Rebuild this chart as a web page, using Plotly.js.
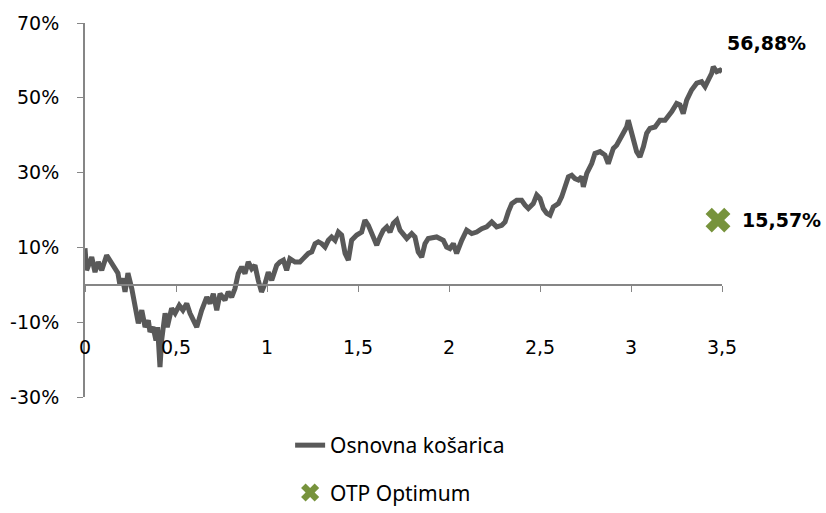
<!DOCTYPE html>
<html>
<head>
<meta charset="utf-8">
<script src="https://cdn.plot.ly/plotly-3.0.1.min.js"></script>
<style>
    html, body { margin: 0; padding: 0; background: #fff; }
    #chart { width: 826px; height: 513px; }
</style>
</head>
<body>
<div id="chart"></div>
<script>
// Osnovna košarica (x in years, y in %)
var basketX = [
    0, 0.009, 0.037, 0.055, 0.073, 0.092, 0.119, 0.137, 0.154, 0.181,
    0.192, 0.207, 0.220, 0.236, 0.257, 0.275, 0.293, 0.312, 0.330, 0.348,
    0.357, 0.374, 0.390, 0.399, 0.412, 0.421, 0.440, 0.452, 0.476, 0.495,
    0.518, 0.538, 0.559, 0.577, 0.595, 0.614, 0.641, 0.669, 0.687, 0.705,
    0.724, 0.742, 0.769, 0.787, 0.806, 0.824, 0.842, 0.861, 0.879, 0.897,
    0.916, 0.934, 0.952, 0.970, 0.989, 1.007, 1.026, 1.053, 1.071, 1.090,
    1.108, 1.126, 1.154, 1.181, 1.199, 1.227, 1.246, 1.264, 1.282, 1.301,
    1.319, 1.337, 1.355, 1.374, 1.392, 1.410, 1.429, 1.447, 1.465, 1.493,
    1.520, 1.538, 1.557, 1.575, 1.603, 1.621, 1.639, 1.658, 1.676, 1.694,
    1.713, 1.731, 1.749, 1.768, 1.795, 1.813, 1.831, 1.850, 1.868, 1.886,
    1.932, 1.969, 1.987, 2.005, 2.024, 2.042, 2.070, 2.097, 2.125, 2.152,
    2.180, 2.207, 2.235, 2.262, 2.290, 2.308, 2.326, 2.345, 2.372, 2.399,
    2.418, 2.436, 2.463, 2.482, 2.500, 2.518, 2.537, 2.555, 2.573, 2.601,
    2.619, 2.637, 2.656, 2.674, 2.692, 2.711, 2.729, 2.738, 2.757, 2.784,
    2.802, 2.830, 2.857, 2.875, 2.903, 2.921, 2.940, 2.958, 2.976, 2.985,
    2.995, 3.013, 3.031, 3.049, 3.068, 3.086, 3.104, 3.132, 3.159, 3.187,
    3.205, 3.224, 3.251, 3.269, 3.287, 3.306, 3.333, 3.361, 3.388, 3.407,
    3.425, 3.443, 3.452, 3.471, 3.489, 3.500
];
var basketY = [
    9.8, 3.9, 7.4, 3.4, 6.1, 3.9, 7.9, 6.6, 4.8, 3.1,
    -0.1, 1.7, -1.9, 3.1, -1.0, -5.9, -10.3, -6.8, -11.3, -9.5,
    -12.6, -11.3, -14.9, -11.3, -22.0, -14.9, -7.6, -11.3, -6.3, -7.6,
    -5.5, -6.8, -5.0, -7.6, -9.5, -11.3, -6.8, -3.3, -5.0, -2.4,
    -6.8, -2.4, -4.1, -1.9, -3.3, -1.0, 3.0, 4.8, 3.0, 6.1,
    4.3, 5.2, 1.2, -1.9, 0.3, 3.4, 1.2, 5.2, 6.1, 6.6,
    3.9, 7.0, 6.1, 6.1, 7.0, 8.4, 8.8, 11.0, 11.5, 11.0,
    10.1, 11.9, 12.8, 11.9, 14.1, 13.3, 8.4, 6.6, 11.9, 13.3,
    14.1, 17.3, 15.9, 14.1, 10.6, 12.8, 14.6, 15.5, 14.1, 16.4,
    17.3, 14.6, 13.3, 12.4, 13.7, 12.8, 8.8, 7.4, 11.0, 12.4,
    12.8, 11.9, 10.1, 9.7, 11.0, 8.4, 11.9, 14.6, 13.7, 14.1,
    15.0, 15.5, 16.8, 15.5, 15.9, 16.8, 19.5, 21.7, 22.6, 22.6,
    21.3, 20.4, 21.7, 24.0, 23.1, 20.4, 19.1, 18.6, 20.8, 21.7,
    23.5, 26.6, 28.9, 29.3, 28.4, 28.0, 28.9, 26.2, 29.8, 32.4,
    35.1, 35.6, 34.7, 32.4, 36.5, 37.3, 39.1, 40.5, 42.2, 44.0,
    42.2, 37.8, 35.6, 34.2, 36.9, 40.5, 41.8, 42.2, 44.0, 44.0,
    44.9, 46.3, 48.5, 48.1, 45.8, 49.4, 52.1, 53.9, 54.3, 53.0,
    54.8, 56.5, 58.3, 57.0, 57.4, 56.88
];

// OTP Optimum single point
var otpX = [3.478];
var otpY = [17.3];

var basketLabel = "56,88%";
var otpLabel = "15,57%";

var yTickVals = [-30, -10, 10, 30, 50, 70];
var yTickText = ["-30%", "-10%", "10%", "30%", "50%", "70%"];
var xTickVals = [0, 0.5, 1, 1.5, 2, 2.5, 3, 3.5];
var xTickText = ["0", "0,5", "1", "1,5", "2", "2,5", "3", "3,5"];

var tickFont = { family: "DejaVu Sans, Verdana, sans-serif", size: 19, color: "#000" };
var axisGray = "#868686";

var traces = [
    {
        x: basketX,
        y: basketY,
        type: "scatter",
        mode: "lines",
        name: "Osnovna košarica",
        line: { color: "#595959", width: 5 },
        cliponaxis: false,
        legendgroup: "a"
    },
    {
        x: otpX,
        y: otpY,
        type: "scatter",
        mode: "markers",
        name: "OTP Optimum",
        marker: { symbol: "x", size: 22, color: "#77933C" },
        cliponaxis: false,
        legendgroup: "b"
    }
];

// plot area: 23..397 px tall, legend sits in the space below (inside the paper)
var layout = {
    width: 826,
    height: 513,
    margin: { l: 85, r: 104, t: 23, b: 0 },
    paper_bgcolor: "#fff",
    plot_bgcolor: "#fff",
    showlegend: true,
    xaxis: {
        range: [0, 3.5],
        tickvals: xTickVals,
        ticktext: xTickText,
        showgrid: false,
        zeroline: false,
        showline: true,
        linecolor: axisGray,
        linewidth: 2,
        ticks: "outside",
        ticklen: 6,
        tickcolor: axisGray,
        tickfont: tickFont,
        ticklabelstandoff: 40,
        anchor: "free",
        position: 0.4663,
        automargin: false
    },
    yaxis: {
        range: [-30, 70],
        domain: [0.2367, 1],
        tickvals: yTickVals,
        ticktext: yTickText,
        showgrid: false,
        zeroline: false,
        showline: true,
        linecolor: axisGray,
        linewidth: 2,
        ticks: "outside",
        ticklen: 6,
        tickcolor: axisGray,
        tickfont: tickFont,
        ticklabelstandoff: 14,
        automargin: false
    },
    legend: {
        x: 0.322,
        y: 0,
        xanchor: "left",
        yanchor: "bottom",
        traceorder: "grouped",
        tracegroupgap: 17,
        font: { family: "Noto Sans, sans-serif", size: 21, color: "#000" },
        bgcolor: "rgba(0,0,0,0)"
    },
    annotations: [
        {
            x: basketX[basketX.length - 1],
            y: basketY[basketY.length - 1],
            text: "<b>" + basketLabel + "</b>",
            showarrow: false,
            xanchor: "center",
            yanchor: "middle",
            xshift: 44,
            yshift: 29,
            font: { family: "DejaVu Sans, Verdana, sans-serif", size: 19, color: "#000" }
        },
        {
            x: otpX[0],
            y: otpY[0],
            text: "<b>" + otpLabel + "</b>",
            showarrow: false,
            xanchor: "left",
            yanchor: "middle",
            xshift: 22,
            font: { family: "DejaVu Sans, Verdana, sans-serif", size: 19, color: "#000" }
        }
    ]
};

Plotly.newPlot("chart", traces, layout, { displayModeBar: false, staticPlot: true });
</script>
</body>
</html>
